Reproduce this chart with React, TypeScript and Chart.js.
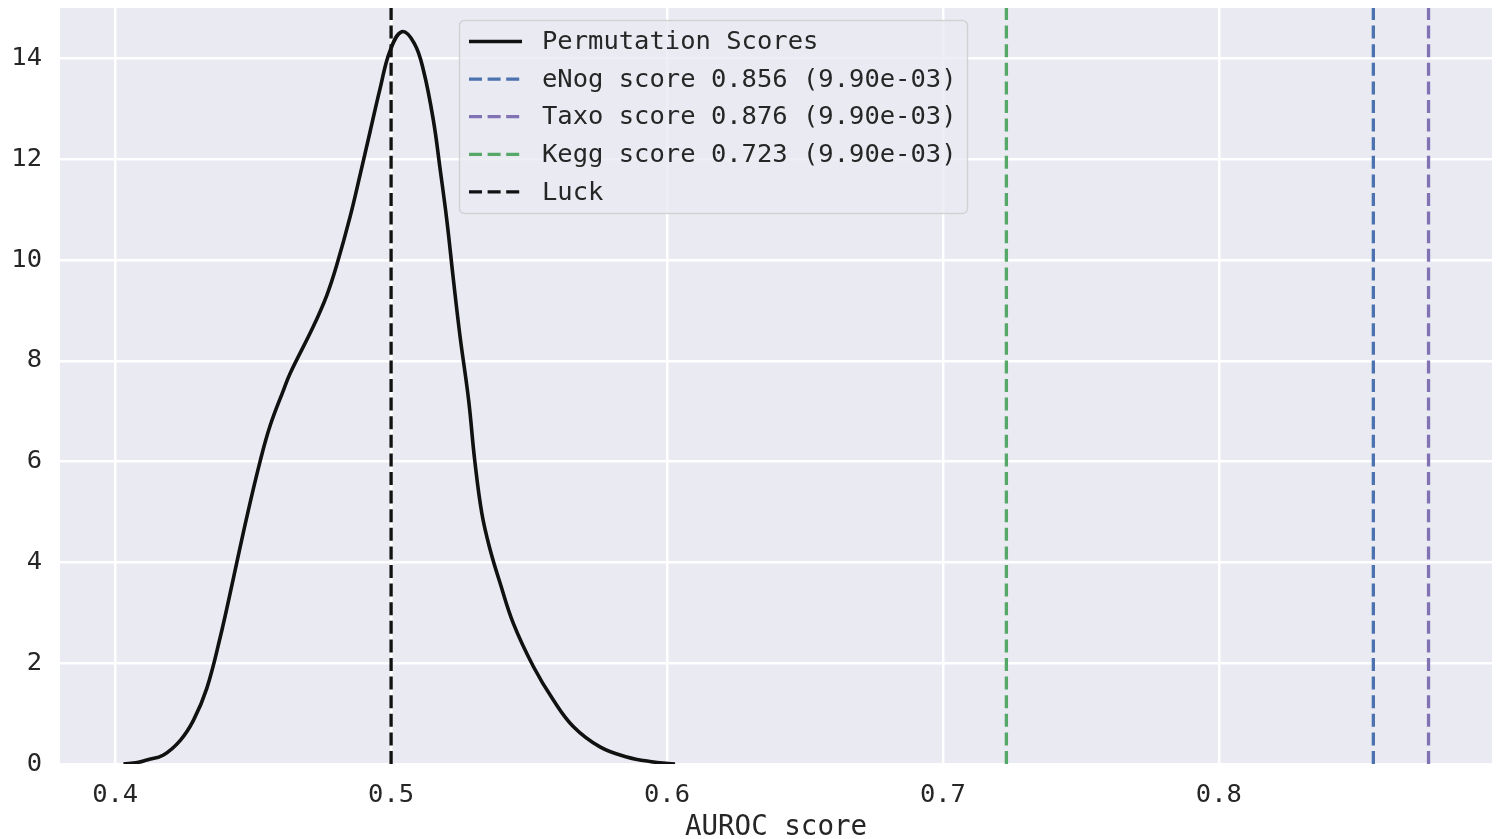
import React, { useEffect, useRef } from "react";
import { Chart, registerables } from "chart.js";

Chart.register(...registerables);

// KDE of permutation scores
const kdeX = [
  0.403, 0.408, 0.4115, 0.4175, 0.4236, 0.4284, 0.4332, 0.438, 0.4429, 0.4477,
  0.4525, 0.4562, 0.461, 0.4634, 0.4718, 0.4767, 0.4803, 0.4851, 0.4888, 0.4924,
  0.496, 0.4996, 0.5039, 0.5084, 0.5117, 0.5153, 0.5178, 0.5202, 0.5226, 0.525,
  0.5281, 0.5303, 0.5329, 0.5359, 0.5395, 0.5443, 0.5516, 0.5588, 0.5661, 0.5757,
  0.5854, 0.5938, 0.6029,
];
const kdeY = [
  0, 0.03, 0.08, 0.18, 0.47, 0.87, 1.5, 2.5, 3.7, 4.9,
  6.0, 6.72, 7.42, 7.75, 8.68, 9.3, 9.9, 10.85, 11.7, 12.55,
  13.4, 14.15, 14.53, 14.3, 13.77, 12.78, 11.79, 10.79, 9.6, 8.48,
  7.22, 6.03, 4.97, 4.25, 3.59, 2.79, 1.93, 1.27, 0.74, 0.34,
  0.14, 0.05, 0,
];

const scoreLabels = [
  "eNog score 0.856 (9.90e-03)",
  "Taxo score 0.876 (9.90e-03)",
  "Kegg score 0.723 (9.90e-03)",
];
const scoreValues = [0.856, 0.876, 0.723];
const scoreColors = ["#4C72B0", "#8172B3", "#55A868"];
const luckValue = 0.5;
const luckLabel = "Luck";
const kdeLabel = "Permutation Scores";

const xTicks = [0.4, 0.5, 0.6, 0.7, 0.8];
const yTicks = [0, 2, 4, 6, 8, 10, 12, 14];
const xMin = 0.38;
const xMax = 0.899;
const yMin = 0;
const yMax = 15;
const xTitle = "AUROC score";

const FONT = "'DejaVu Sans Mono', monospace";
const TEXT = "#262626";
const DASH = [13, 5.6];
const LW = 3.3;
const KDE_LW = 3.6;

const bgPlugin = {
  id: "bgPlugin",
  beforeDraw(chart: any) {
    const { ctx, chartArea } = chart;
    ctx.save();
    ctx.fillStyle = "#ffffff";
    ctx.fillRect(0, 0, chart.width, chart.height);
    ctx.fillStyle = "#EAEAF2";
    ctx.fillRect(chartArea.left, chartArea.top, chartArea.right - chartArea.left, chartArea.bottom - chartArea.top);
    ctx.restore();
  },
};

const legendPlugin = {
  id: "insideLegend",
  afterDatasetsDraw(chart: any) {
    const ctx = chart.ctx;
    const x0 = 459.5, y0 = 20.5, w = 508, h = 193;
    ctx.save();
    ctx.beginPath();
    (ctx as any).roundRect(x0, y0, w, h, 5);
    ctx.fillStyle = "rgba(234,234,242,0.8)";
    ctx.fill();
    ctx.lineWidth = 1.5;
    ctx.strokeStyle = "rgba(204,204,204,0.8)";
    ctx.stroke();
    const ds = chart.data.datasets;
    ctx.font = `25.5px ${FONT}`;
    ctx.textBaseline = "middle";
    ctx.textAlign = "left";
    ds.forEach((d: any, i: number) => {
      const y = 41.5 + i * 37.6;
      ctx.beginPath();
      ctx.setLineDash(d.borderDash || []);
      ctx.lineWidth = d.borderWidth;
      ctx.strokeStyle = d.borderColor;
      ctx.moveTo(469, y);
      ctx.lineTo(522, y);
      ctx.stroke();
      ctx.setLineDash([]);
      ctx.fillStyle = TEXT;
      ctx.fillText(d.label, 542, y + 1);
    });
    ctx.restore();
  },
};

export default function App() {
  const ref = useRef<HTMLCanvasElement | null>(null);
  useEffect(() => {
    if (!ref.current) return;
    const vline = (v: number) => [
      { x: v, y: yMin },
      { x: v, y: yMax },
    ];
    const datasets: any[] = [
      {
        label: kdeLabel,
        data: kdeX.map((x, i) => ({ x, y: kdeY[i] })),
        borderColor: "#111111",
        borderWidth: KDE_LW,
        pointRadius: 0,
        tension: 0.4,
        fill: false,
        order: 5,
      },
      ...scoreValues.map((v, i) => ({
        label: scoreLabels[i],
        data: vline(v),
        borderColor: scoreColors[i],
        borderWidth: LW,
        borderDash: DASH,
        pointRadius: 0,
        fill: false,
        order: 4 - i,
      })),
      {
        label: luckLabel,
        data: vline(luckValue),
        borderColor: "#111111",
        borderWidth: LW,
        borderDash: DASH,
        pointRadius: 0,
        fill: false,
        order: 1,
      },
    ];
    const chart = new Chart(ref.current, {
      type: "line",
      data: { datasets },
      options: {
        animation: false,
        responsive: false,
        layout: { padding: { left: 0, top: 8, right: 7, bottom: 0 } },
        plugins: { legend: { display: false }, tooltip: { enabled: false } },
        scales: {
          x: {
            type: "linear",
            min: xMin,
            max: xMax,
            afterBuildTicks: (s: any) => {
              s.ticks = xTicks.map((v) => ({ value: v }));
            },
            afterFit: (s: any) => {
              s.height = 75;
              s.paddingLeft = 0;
              s.paddingRight = 0;
              s.paddingTop = 0;
              s.paddingBottom = 0;
            },
            ticks: {
              callback: (v: any) => Number(v).toFixed(1),
              font: { family: FONT, size: 25.5, lineHeight: 1 },
              color: TEXT,
              padding: 19,
              maxRotation: 0,
            },
            grid: { color: "#ffffff", lineWidth: 2.5, drawTicks: false },
            border: { display: false },
            title: {
              display: true,
              text: xTitle,
              font: { family: FONT, size: 27.5, lineHeight: 0.8 },
              color: TEXT,
              padding: { top: 0, bottom: 0 },
            },
          },
          y: {
            type: "linear",
            min: yMin,
            max: yMax,
            afterBuildTicks: (s: any) => {
              s.ticks = yTicks.map((v) => ({ value: v }));
            },
            afterFit: (s: any) => {
              s.width = 60;
              s.paddingTop = 0;
              s.paddingBottom = 0;
              s.paddingLeft = 0;
              s.paddingRight = 0;
            },
            ticks: {
              callback: (v: any) => String(v),
              font: { family: FONT, size: 25.5, lineHeight: 1 },
              color: TEXT,
              padding: 18,
            },
            grid: { color: "#ffffff", lineWidth: 2.5, drawTicks: false },
            border: { display: false },
          },
        },
      } as any,
      plugins: [bgPlugin, legendPlugin],
    });
    return () => chart.destroy();
  }, []);
  return (
    <canvas
      ref={ref}
      width={1499}
      height={839}
      style={{ position: "absolute", left: 0, top: 0, width: 1499, height: 839, display: "block" }}
    />
  );
}
